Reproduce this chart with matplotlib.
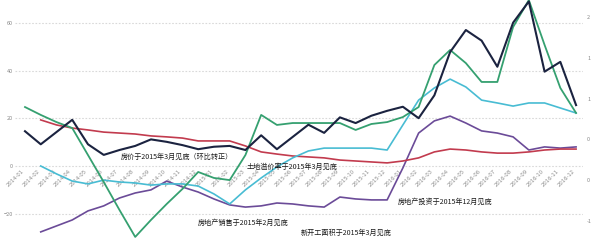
import math
import matplotlib
matplotlib.use("Agg")
import matplotlib.pyplot as plt
from matplotlib.ticker import FixedLocator, FuncFormatter

plt.rcParams['font.family'] = ['Noto Sans CJK SC', 'DejaVu Sans']

months = [f"{y}-{m:02d}" for y in (2014, 2015, 2016) for m in range(1, 13)]

# 房价（右轴）
price = [0.60, 0.44, 0.59, 0.74, 0.44, 0.31, 0.37, 0.42, 0.50, 0.47,
         0.43, 0.38, 0.41, 0.42, 0.37, 0.55, 0.38, 0.53, 0.68, 0.58,
         0.77, 0.70, 0.79, 0.85, 0.90, 0.76, 1.04, 1.57, 1.84, 1.71,
         1.39, 1.93, 2.19, 1.33, 1.45, 0.92]
# 土地溢价率
land_premium = [24.8, 21.5, 18.5, 16.0, 4.7, -6.6, -18.3, -29.6, -22.5, -15.8,
                -9.5, -2.4, -4.9, -5.8, 4.7, 21.5, 17.3, 18.1, 18.1, 18.1,
                18.1, 15.2, 17.7, 18.5, 20.6, 24.8, 42.4, 48.7, 43.2, 35.3,
                35.3, 58.3, 69.6, 50.8, 32.8, 22.3]
# 房地产销售（自2014-02起）
sales = [0.1, -3.2, -6.2, -7.4, -5.8, -6.6, -7.0, -7.9, -7.4, -7.4,
         -8.3, -11.6, -15.8, -9.9, -4.9, -0.3, 3.5, 6.4, 7.6, 7.6,
         7.6, 7.6, 6.8, 17.3, 27.7, 32.8, 36.5, 33.2, 27.7, 26.5,
         25.2, 26.5, 26.5, 24.4, 22.3]
# 房地产投资（自2014-02起）
investment = [19.4, 17.3, 16.0, 15.2, 14.3, 13.9, 13.5, 12.7, 12.3, 11.8,
              10.6, 10.6, 10.6, 8.5, 6.0, 5.1, 4.3, 3.9, 3.5, 2.6,
              2.2, 1.8, 1.4, 2.2, 3.5, 6.0, 7.2, 6.8, 6.0, 5.5,
              5.5, 6.0, 6.8, 7.2, 7.2]
# 新开工面积（自2014-02起）
new_starts = [-27.5, -25.0, -22.5, -18.7, -16.6, -13.3, -11.2, -9.9, -6.2, -8.7,
              -10.8, -13.7, -16.2, -17.1, -16.6, -15.4, -15.8, -16.6, -17.1, -12.9,
              -13.7, -14.1, -14.1, -0.7, 13.9, 19.0, 21.0, 18.1, 14.8, 13.9,
              12.3, 6.8, 8.1, 7.6, 8.1]

left_ticks = [-20, 0, 20, 40, 60]
right_ticks = [-0.5, 0, 0.5, 1, 1.5, 2]

notes = [
    ("房价于2015年3月见底（环比转正）", 6.1, 4.0),
    ("土地溢价率于2015年3月见底", 14.1, -0.1),
    ("房地产投资于2015年12月见底", 23.7, -14.8),
    ("房地产销售于2015年2月见底", 11.0, -23.5),
    ("新开工面积于2015年3月见底", 17.5, -27.8),
]

fig = plt.figure(figsize=(6, 2.49), dpi=100)
ax = fig.add_axes([15 / 600, 0, 568 / 600, 1])
ax2 = ax.twinx()

x_all = list(range(36))
x_late = list(range(1, 36))

ax.plot(x_late, new_starts, color='#6b4b98', lw=1.2, zorder=3)
ax.plot(x_late, investment, color='#c23b4e', lw=1.2, zorder=3)
ax.plot(x_late, sales, color='#48bcd3', lw=1.2, zorder=3)
ax.plot(x_all, land_premium, color='#35a070', lw=1.3, zorder=4)
ax2.plot(x_all, price, color='#1b2340', lw=1.5, zorder=5)

ax.set_xlim(-0.635, 35.44)
ax.set_ylim(-34.66, 69.63)
ax2.set_ylim(-0.843, 2.208)

for a in (ax, ax2):
    for s in a.spines.values():
        s.set_color('none')

ax.spines['bottom'].set_position(('data', 0))
ax.xaxis.set_major_locator(FixedLocator(x_all))
ax.set_xticklabels(months, rotation=45, ha='right', va='top',
                   fontsize=3.8, color='#8a8a8a', family='DejaVu Sans')
ax.tick_params(axis='x', length=0, pad=1.5)

ax.yaxis.set_major_locator(FixedLocator(left_ticks))
ax.tick_params(axis='y', length=0, pad=1.5, labelsize=4, labelcolor='#8a8a8a')
ax.grid(axis='y', color='#d9d9d9', lw=0.8, ls=(0, (1.5, 1.5)))
ax.grid(axis='x', visible=False)

ax2.yaxis.set_major_locator(FixedLocator(right_ticks))
ax2.yaxis.set_major_formatter(FuncFormatter(lambda v, p: f"{math.floor(v):d}"))
ax2.tick_params(axis='y', length=0, pad=3, labelsize=4, labelcolor='#8a8a8a')

for text, xv, yv in notes:
    ax.text(xv, yv, text, fontsize=5.1, color='#1a1a1a', ha='left',
            va='center', zorder=6)

fig.savefig('out.png', dpi=100)
